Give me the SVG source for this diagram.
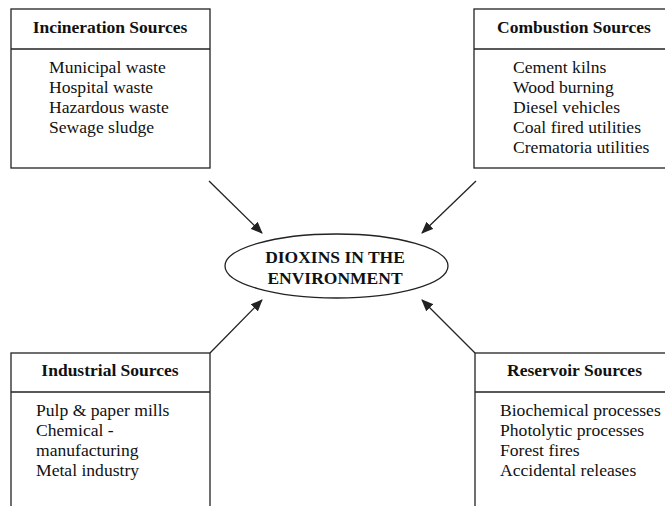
<svg xmlns="http://www.w3.org/2000/svg" width="665" height="506" viewBox="0 0 665 506">
<style>
.box{fill:#fff;stroke:#222;stroke-width:1.3}
.t{font-family:"Liberation Serif",serif;font-size:17.6px;fill:#111}
.h{font-family:"Liberation Serif",serif;font-size:17.5px;font-weight:bold;fill:#111}
.c{stroke:#222;stroke-width:1.3;fill:none;marker-end:url(#ah)}
</style>
<defs>
<marker id="ah" markerWidth="12" markerHeight="10" refX="11" refY="5" orient="auto" markerUnits="userSpaceOnUse">
<path d="M0,0 L12,5 L0,10 Z" fill="#222"/>
</marker>
</defs>
<rect width="665" height="506" fill="#fff"/>
<g id="connectors">
<line class="c" x1="209" y1="181" x2="262" y2="233"/>
<line class="c" x1="476" y1="181" x2="422" y2="233"/>
<line class="c" x1="210" y1="353" x2="262" y2="300"/>
<line class="c" x1="475" y1="353" x2="422" y2="300"/>
</g>
<g id="incineration">
<rect class="box" x="11" y="9" width="199" height="159"/>
<line class="box" x1="11" y1="49" x2="210" y2="49"/>
<text class="h" x="110" y="33" text-anchor="middle">Incineration Sources</text>
<text class="t" x="49" y="73">Municipal waste</text>
<text class="t" x="49" y="93">Hospital waste</text>
<text class="t" x="49" y="113">Hazardous waste</text>
<text class="t" x="49" y="133">Sewage sludge</text>
</g>
<g id="combustion">
<rect class="box" x="474" y="9" width="200" height="159"/>
<line class="box" x1="474" y1="49" x2="674" y2="49"/>
<text class="h" x="497" y="33">Combustion Sources</text>
<text class="t" x="513" y="73">Cement kilns</text>
<text class="t" x="513" y="93">Wood burning</text>
<text class="t" x="513" y="113">Diesel vehicles</text>
<text class="t" x="513" y="133">Coal fired utilities</text>
<text class="t" x="513" y="153">Crematoria utilities</text>
</g>
<g id="center">
<ellipse class="box" cx="336.5" cy="266" rx="111.5" ry="32"/>
<text class="h" x="335" y="263" text-anchor="middle">DIOXINS IN THE</text>
<text class="h" x="335" y="284" text-anchor="middle">ENVIRONMENT</text>
</g>
<g id="industrial">
<rect class="box" x="11" y="353" width="199" height="170"/>
<line class="box" x1="11" y1="392" x2="210" y2="392"/>
<text class="h" x="110" y="376" text-anchor="middle">Industrial Sources</text>
<text class="t" x="36" y="416">Pulp &amp; paper mills</text>
<text class="t" x="36" y="436">Chemical -</text>
<text class="t" x="36" y="456">manufacturing</text>
<text class="t" x="36" y="476">Metal industry</text>
</g>
<g id="reservoir">
<rect class="box" x="475" y="353" width="200" height="170"/>
<line class="box" x1="475" y1="392" x2="675" y2="392"/>
<text class="h" x="507" y="376">Reservoir Sources</text>
<text class="t" x="500" y="416">Biochemical processes</text>
<text class="t" x="500" y="436">Photolytic processes</text>
<text class="t" x="500" y="456">Forest fires</text>
<text class="t" x="500" y="476">Accidental releases</text>
</g>
</svg>
